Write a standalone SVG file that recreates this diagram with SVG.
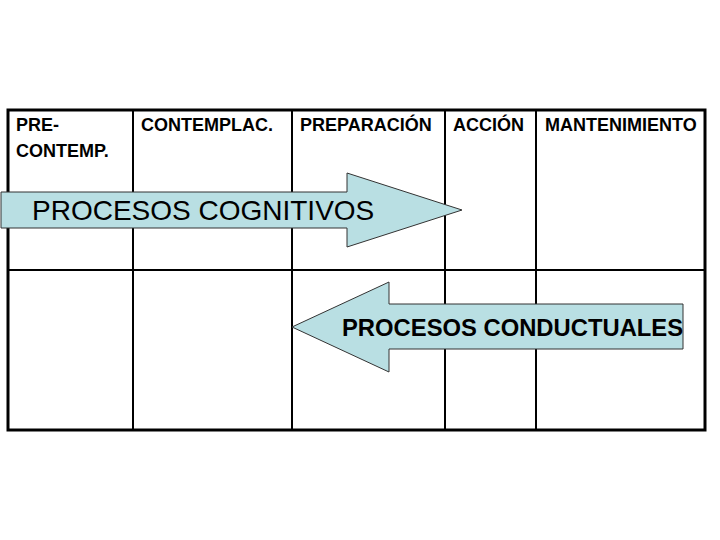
<svg xmlns="http://www.w3.org/2000/svg" width="720" height="540" viewBox="0 0 720 540">
<style>
.grid{stroke:#000;stroke-width:2;fill:none}
.outer{stroke:#000;stroke-width:3;fill:none}
.hdr{font-family:"Liberation Sans",Arial,sans-serif;font-weight:bold;font-size:18px;fill:#000}
.arrow{fill:#b9dfe3;stroke:#333;stroke-width:1}
.lbl{font-family:"Liberation Sans",Arial,sans-serif;fill:#000}
</style>
<rect width="720" height="540" fill="#fff"/>
<g id="table">
<rect class="outer" x="8" y="110" width="697" height="320"/>
<line class="grid" x1="8" y1="270" x2="705" y2="270"/>
<line class="grid" x1="133" y1="110" x2="133" y2="430"/>
<line class="grid" x1="292" y1="110" x2="292" y2="430"/>
<line class="grid" x1="445" y1="110" x2="445" y2="430"/>
<line class="grid" x1="536" y1="110" x2="536" y2="430"/>
</g>
<g id="headers">
<text class="hdr" x="16" y="131">PRE-</text>
<text class="hdr" x="16" y="157">CONTEMP.</text>
<text class="hdr" x="141" y="131">CONTEMPLAC.</text>
<text class="hdr" x="300" y="131">PREPARACIÓN</text>
<text class="hdr" x="453" y="131">ACCIÓN</text>
<text class="hdr" x="545" y="131">MANTENIMIENTO</text>
</g>
<g id="connectors">
<g id="cognitivos">
<polygon class="arrow" points="1,192 347,192 347,173 462,210 347,247 347,228 1,228"/>
<text class="lbl" x="32" y="220" font-size="28">PROCESOS COGNITIVOS</text>
</g>
<g id="conductuales">
<polygon class="arrow" points="683,304 389,304 389,282 292,327 389,372 389,349 683,349"/>
<text class="lbl" x="342" y="336" font-size="23.8" font-weight="bold">PROCESOS CONDUCTUALES</text>
</g>
</g>
</svg>
